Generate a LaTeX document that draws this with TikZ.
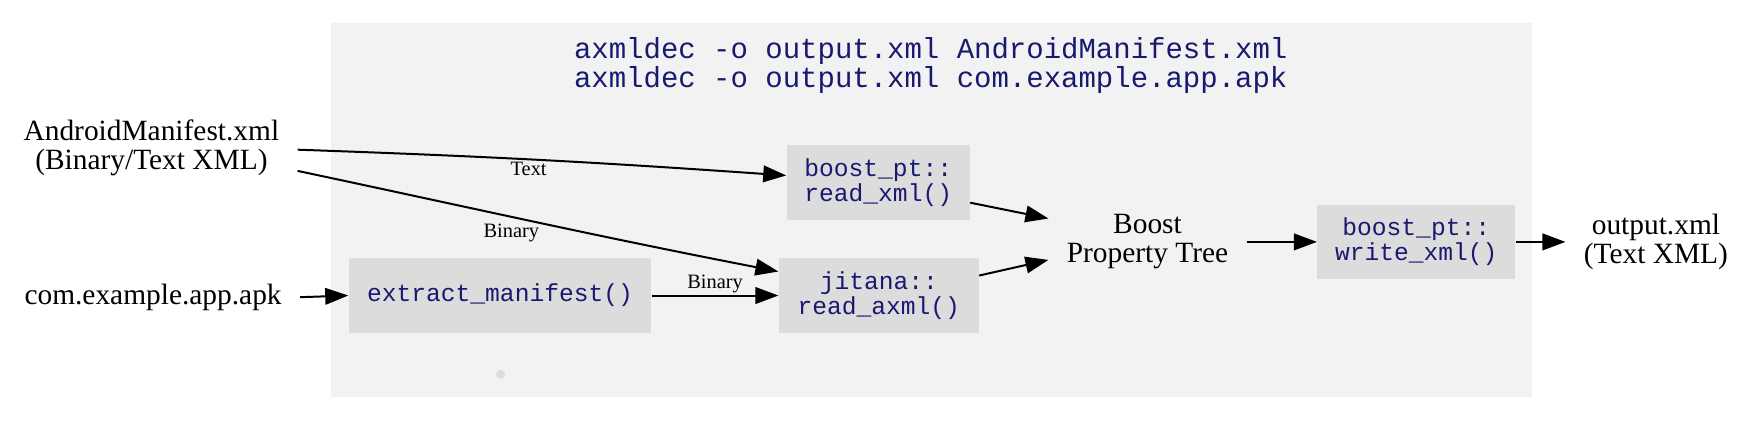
\documentclass[tikz,border=0pt]{standalone}
\usepackage{fontspec}
\setmainfont{Liberation Serif}
\setmonofont{Liberation Mono}
\usetikzlibrary{arrows.meta}
\usetikzlibrary{positioning}
\definecolor{clustergray}{RGB}{242,242,242}
\definecolor{boxgray}{RGB}{220,220,220}
\definecolor{codeblue}{RGB}{25,25,112}
\begin{document}
\begin{tikzpicture}[x=0.5587pt,y=-0.5587pt,
plain/.style={font=\fontsize{14.7}{14.5}\selectfont, align=center, inner xsep=9pt, inner ysep=0pt},
code/.style={fill=boxgray, text=codeblue, font=\ttfamily\fontsize{12.3}{12.3}\selectfont,
  align=center, minimum height=37.4pt, inner sep=0pt},
lbl/.style={font=\fontsize{10.2}{11}\selectfont, inner sep=1pt},
edge/.style={line width=1pt, -{Triangle[length=11.5pt,width=8.3pt]}}]
\useasboundingbox (0,0) rectangle (1568,376.8);
\fill[clustergray] (296,21) rectangle (1371,355);
\node[text=codeblue, font=\ttfamily\fontsize{14.5}{14.5}\selectfont, align=center] (title) at (833,59)
  {axmldec -o output.xml AndroidManifest.xml\\axmldec -o output.xml com.example.app.apk};
% inputs
\node[plain] (am) at (135.5,132) {AndroidManifest.xml\\(Binary/Text XML)};
\node[plain] (apk) at (137,266) {com.example.app.apk};
% boxes
\node[code, minimum width=91.6pt] (rx) at (786,163.5) {boost\_pt::\\read\_xml()};
\node[code, minimum width=100pt] (ra) at (786.5,264.5) {jitana::\\read\_axml()};
\node[code, minimum width=151.4pt] (em) at (447.5,264.5) {extract\_manifest()};
\node[code, minimum width=98.9pt] (wx) at (1267.5,216.5) {boost\_pt::\\write\_xml()};
\node[plain] (bt) at (1027,216.5) {Boost\\Property Tree};
\node[plain] (out) at (1482,216.5) {output.xml\\(Text XML)};
\node[circle, fill=boxgray, inner sep=0pt, minimum size=4.5pt] (pt) at (448,335) {};
% edges
\draw[edge] ([yshift=-1.1pt]am.east) to[out=-2,in=176]
  node[lbl, pos=0.47, below] {Text} ([yshift=3.6pt]rx.west);
\draw[edge] ([yshift=-11.7pt]am.east) to[out=-12,in=169]
  node[lbl, pos=0.44, below=2pt] {Binary} ([yshift=12pt]ra.west);
\draw[edge] (apk.east) -- (em.west);
\draw[edge] (em.east) -- node[lbl, above] {Binary} (ra.west);
\draw[edge] ([yshift=-10pt]rx.east) -- ([yshift=11.7pt]bt.west);
\draw[edge] ([yshift=10pt]ra.east) -- ([yshift=-9pt]bt.west);
\draw[edge] (bt.east) -- (wx.west);
\draw[edge] (wx.east) -- (out.west);
\end{tikzpicture}
\end{document}
